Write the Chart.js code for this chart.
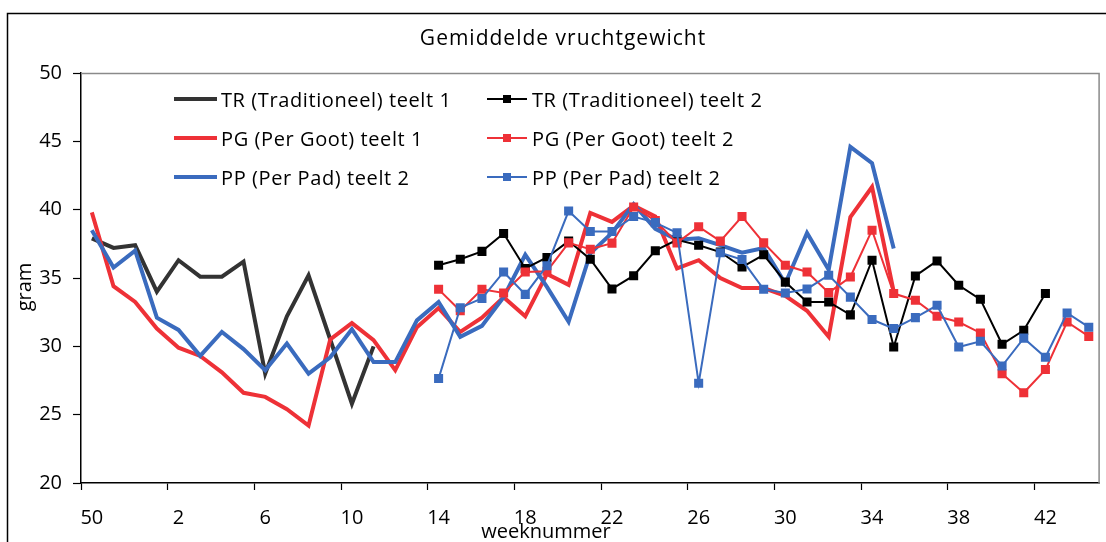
<!DOCTYPE html>
<html><head><meta charset="utf-8">
<script src="https://cdn.jsdelivr.net/npm/chart.js@4/dist/chart.umd.min.js"></script>
<style>html,body{margin:0;padding:0;background:#fff}#wrap{width:1106px;height:542px;position:relative}canvas{display:block}</style>
</head><body><div id="wrap"><canvas id="c" width="1106" height="542"></canvas></div>
<script>
// ---- data ----
const weeks = ['50','51','52','1','2','3','4','5','6','7','8','9','10','11','12','13','14','15','16','17','18','19','20','21','22','23','24','25','26','27','28','29','30','31','32','33','34','35','36','37','38','39','40','41','42','43','44'];
const yTicks = [20, 25, 30, 35, 40, 45, 50];
const title = 'Gemiddelde vruchtgewicht';
const xTitle = 'weeknummer';
const yTitle = 'gram';
const labels = ['TR (Traditioneel) teelt 1','PG (Per Goot) teelt 1','PP (Per Pad) teelt 2','TR (Traditioneel) teelt 2','PG (Per Goot) teelt 2','PP (Per Pad) teelt 2'];
const N = null;
const tr1 = [37.9,37.2,37.4,34.0,36.3,35.1,35.1,36.2,28.0,32.2,35.2,30.5,25.8,30.0,N,N,N,N,N,N,N,N,N,N,N,N,N,N,N,N,N,N,N,N,N,N,N,N,N,N,N,N,N,N,N,N,N];
const pg1 = [39.8,34.4,33.25,31.3,29.9,29.3,28.1,26.6,26.3,25.4,24.2,30.5,31.7,30.45,28.25,31.4,32.8,31.05,32.1,33.6,32.2,35.3,34.5,39.76,39.1,40.3,39.5,35.7,36.3,35.0,34.26,34.26,33.7,32.6,30.7,39.46,41.66,34.0,N,N,N,N,N,N,N,N,N];
const pp1 = [38.5,35.76,37.0,32.1,31.2,29.3,31.05,29.8,28.25,30.2,28.0,29.2,31.25,28.85,28.85,31.9,33.25,30.7,31.5,33.6,36.7,34.35,31.8,36.8,38.3,40.4,38.6,37.8,37.9,37.4,36.85,37.2,34.6,38.3,35.6,44.6,43.4,37.15,N,N,N,N,N,N,N,N,N];
const tr2 = [N,N,N,N,N,N,N,N,N,N,N,N,N,N,N,N,35.93,36.37,36.95,38.25,35.7,36.5,37.7,36.37,34.2,35.17,37.0,37.8,37.4,36.9,35.8,36.7,34.7,33.25,33.25,32.3,36.3,29.95,35.15,36.25,34.47,33.44,30.15,31.17,33.86,N,N];
const pg2 = [N,N,N,N,N,N,N,N,N,N,N,N,N,N,N,N,34.17,32.6,34.17,33.9,35.44,35.5,37.57,37.1,37.55,40.2,39.2,37.57,38.75,37.7,39.5,37.57,35.93,35.44,33.93,35.07,38.5,33.86,33.37,32.2,31.78,30.98,28.0,26.6,28.3,31.78,30.73];
const pp2 = [N,N,N,N,N,N,N,N,N,N,N,N,N,N,N,N,27.64,32.83,33.5,35.44,33.8,35.9,39.9,38.4,38.4,39.5,39.05,38.3,27.3,36.85,36.35,34.17,33.9,34.2,35.2,33.6,31.96,31.3,32.1,33.0,29.95,30.37,28.56,30.6,29.2,32.44,31.4];

// ---- styles ----
const DARK = '#333333', RED = '#EE3137', BLUE = '#3A6BBE', BLACK = '#000000';
const FONT = '"Open Sans", "DejaVu Sans", sans-serif';
Chart.defaults.font.family = FONT;
Chart.defaults.font.size = 20;
Chart.defaults.color = '#000';

function thick(label, data, color, order) {
  return { label, data, borderColor: color, backgroundColor: color, borderWidth: 4, pointRadius: 0, pointHoverRadius: 0, tension: 0, spanGaps: false, order, borderJoinStyle: 'miter' };
}
function thin(label, data, color, order) {
  return { label, data, borderColor: color, backgroundColor: color, borderWidth: 2, pointStyle: 'rect', pointRadius: 6.4, pointBorderWidth: 0, pointBackgroundColor: color, pointHoverRadius: 6.4, tension: 0, spanGaps: false, order };
}

const legendLayout = { cols: [[174, 217, 221], [487, 527, 532]], rows: [99, 138, 177] };

const decor = {
  id: 'decor',
  beforeDatasetsDraw(chart) {
    const { ctx, chartArea: a } = chart;
    ctx.save();
    ctx.strokeStyle = '#8a8a8a';
    ctx.lineWidth = 1.5;
    ctx.beginPath();
    ctx.moveTo(a.left, a.top + 0.5);
    ctx.lineTo(a.right - 0.5, a.top + 0.5);
    ctx.lineTo(a.right - 0.5, a.bottom);
    ctx.stroke();
    ctx.restore();
  },
  afterDraw(chart) {
    const { ctx } = chart;
    ctx.save();
    // outer frame
    ctx.strokeStyle = '#000';
    ctx.lineWidth = 1.5;
    ctx.strokeRect(7.5, 13.5, 1200, 600);
    ctx.fillStyle = '#000';
    // title
    ctx.font = '21px ' + FONT;
    if ('letterSpacing' in ctx) ctx.letterSpacing = '1px';
    ctx.textAlign = 'center';
    ctx.textBaseline = 'middle';
    ctx.fillText(title, 563, 39);
    if ('letterSpacing' in ctx) ctx.letterSpacing = '0px';
    // axis titles
    ctx.font = '20px ' + FONT;
    ctx.textBaseline = 'alphabetic';
    ctx.fillText(xTitle, 546, 537.5);
    ctx.save();
    ctx.translate(31, 287);
    ctx.rotate(-Math.PI / 2);
    ctx.fillText(yTitle, 0, 0);
    ctx.restore();
    // legend
    ctx.font = '20px ' + FONT;
    if ('letterSpacing' in ctx) ctx.letterSpacing = '0.6px';
    ctx.textAlign = 'left';
    ctx.textBaseline = 'middle';
    chart.data.datasets.forEach((ds, i) => {
      const col = legendLayout.cols[Math.floor(i / 3)];
      const y = legendLayout.rows[i % 3];
      ctx.strokeStyle = ds.borderColor;
      ctx.lineWidth = ds.borderWidth;
      ctx.beginPath();
      ctx.moveTo(col[0], y);
      ctx.lineTo(col[1], y);
      ctx.stroke();
      if (ds.pointRadius > 0) {
        ctx.fillStyle = ds.borderColor;
        const cx = (col[0] + col[1]) / 2;
        ctx.fillRect(cx - 4, y - 4, 8, 8);
      }
      ctx.fillStyle = '#000';
      ctx.fillText(ds.label, col[2], y + 2);
    });
    ctx.restore();
  }
};

new Chart(document.getElementById('c'), {
  type: 'line',
  data: {
    labels: weeks,
    datasets: [
      thick(labels[0], tr1, DARK, 5),
      thick(labels[1], pg1, RED, 4),
      thick(labels[2], pp1, BLUE, 3),
      thin(labels[3], tr2, BLACK, 2),
      thin(labels[4], pg2, RED, 1),
      thin(labels[5], pp2, BLUE, 0)
    ]
  },
  options: {
    responsive: false,
    animation: false,
    devicePixelRatio: 1,
    layout: { padding: { left: 0, right: 3, top: 73, bottom: 0 } },
    plugins: { legend: { display: false }, tooltip: { enabled: false }, title: { display: false } },
    scales: {
      x: {
        type: 'category',
        offset: true,
        afterFit(s) { s.height = 59; },
        grid: {
          offset: true, drawOnChartArea: false, drawTicks: true, tickLength: 7, tickWidth: 1.2,
          tickColor: (c) => (c.index % 4 === 0 ? '#000' : 'rgba(0,0,0,0)')
        },
        border: { color: '#000', width: 1.5 },
        ticks: {
          autoSkip: false, maxRotation: 0, minRotation: 0, padding: 16, color: '#000',
          callback: function (v, i) { return i % 4 === 0 ? this.getLabelForValue(v) : ''; }
        }
      },
      y: {
        min: yTicks[0], max: yTicks[yTicks.length - 1],
        afterFit(s) { s.width = 81; },
        afterBuildTicks(s) { s.ticks = yTicks.map(v => ({ value: v })); },
        grid: { drawOnChartArea: false, drawTicks: true, tickLength: 8, tickColor: '#000', tickWidth: 1.2 },
        border: { color: '#000', width: 1.5 },
        ticks: { padding: 11, color: '#000' }
      }
    }
  },
  plugins: [decor]
});
</script>
</body></html>
